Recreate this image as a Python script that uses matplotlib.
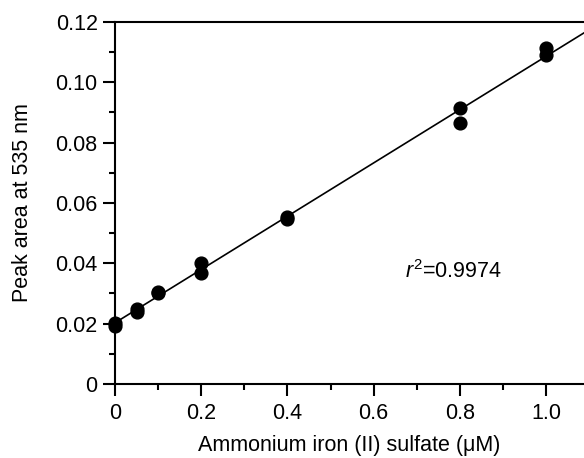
import numpy as np
import matplotlib
matplotlib.use("Agg")
import matplotlib.pyplot as plt
from matplotlib.ticker import MultipleLocator, FixedLocator

plt.rcParams['font.family'] = ['Liberation Sans', 'DejaVu Sans']
plt.rcParams['mathtext.fontset'] = 'custom'
plt.rcParams['mathtext.rm'] = 'Liberation Sans'
plt.rcParams['mathtext.it'] = 'Liberation Sans:italic'

# data: concentration (uM) vs peak area, duplicates per level
conc = [0, 0, 0.05, 0.05, 0.1, 0.1, 0.2, 0.2, 0.4, 0.4, 0.8, 0.8, 1.0, 1.0]
area = [0.0192, 0.0203, 0.0240, 0.0250, 0.0300, 0.0306, 0.0402, 0.0368,
        0.0548, 0.0552, 0.0914, 0.0865, 0.1113, 0.1092]

x_ticks = [0, 0.2, 0.4, 0.6, 0.8, 1.0]
x_labels = ["0", "0.2", "0.4", "0.6", "0.8", "1.0"]
y_ticks = [0, 0.02, 0.04, 0.06, 0.08, 0.10, 0.12]
y_labels = ["0", "0.02", "0.04", "0.06", "0.08", "0.10", "0.12"]
r2_text = r"$\it{r}^2$=0.9974"

slope, intercept = np.polyfit(conc, area, 1)

fig = plt.figure(figsize=(5.84, 4.58), dpi=100)
ax = fig.add_axes([0.197, 0.1616, 0.803, 0.7904])

xmax = 1.088
xs = np.array([0, xmax])
ax.plot(xs, slope * xs + intercept, color='black', lw=1.2, clip_on=False)
ax.plot(conc, area, 'o', color='black', markersize=9.2, clip_on=False, zorder=3)

ax.set_xlim(0, xmax)
ax.set_ylim(0, 0.12)

ax.spines['right'].set_visible(False)
for s in ['left', 'bottom', 'top']:
    ax.spines[s].set_linewidth(1.5)

ax.xaxis.set_major_locator(FixedLocator(x_ticks))
ax.set_xticklabels(x_labels)
ax.xaxis.set_minor_locator(MultipleLocator(0.1))
ax.yaxis.set_major_locator(FixedLocator(y_ticks))
ax.set_yticklabels(y_labels)
ax.yaxis.set_minor_locator(MultipleLocator(0.01))

ax.tick_params(which='major', direction='out', length=8.5, width=1.5, labelsize=15.5)
ax.tick_params(axis='x', which='major', pad=5)
ax.tick_params(axis='y', which='major', pad=4)
ax.tick_params(which='minor', direction='out', length=4.5, width=1.5)
ax.tick_params(top=False, right=False, which='both')

ax.set_xlabel("Ammonium iron (II) sulfate (\u03bcM)", fontsize=15.5, labelpad=8)
ax.set_ylabel("Peak area at 535 nm", fontsize=15.5, labelpad=16)

ax.text(0.672, 0.0372, r2_text, fontsize=15.5, va='center', ha='left')

fig.savefig("out.png", dpi=100)
